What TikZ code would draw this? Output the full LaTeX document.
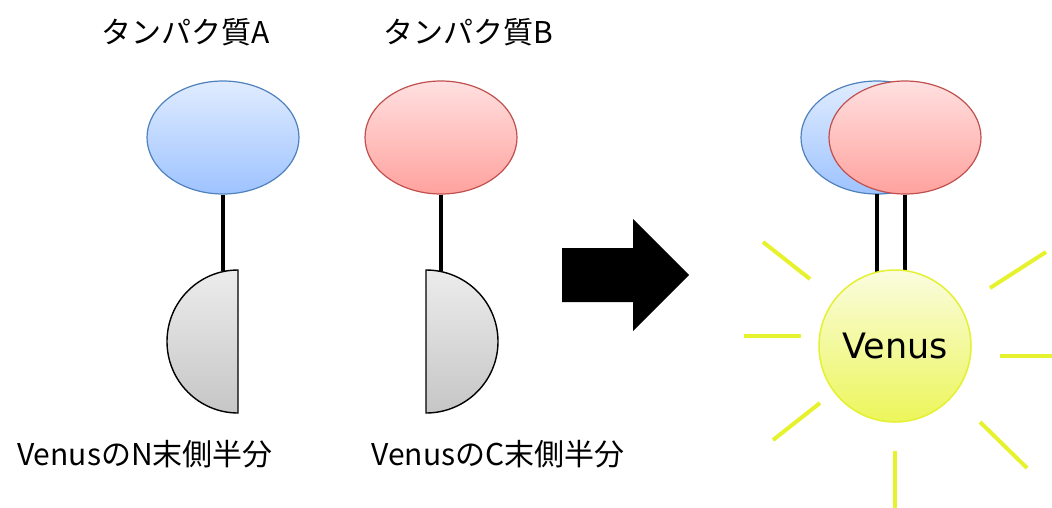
\documentclass[tikz,border=0pt]{standalone}
\usepackage{fontspec}
\usetikzlibrary{shapes.geometric}
\newfontfamily\cjkfont{Noto Sans CJK JP}
\newfontfamily\latfont{DejaVu Sans}
\newcommand{\jtxt}[2]{{\cjkfont\fontsize{#1}{#1}\selectfont #2}}
\newcommand{\ltxt}[2]{{\latfont\fontsize{#1}{#1}\selectfont #2}}
\definecolor{blueB}{RGB}{79,129,189}
\definecolor{blueT}{RGB}{224,236,255}
\definecolor{blueBo}{RGB}{158,195,255}
\definecolor{redB}{RGB}{192,80,77}
\definecolor{redT}{RGB}{255,224,224}
\definecolor{redBo}{RGB}{255,162,158}
\definecolor{grayT}{RGB}{236,236,236}
\definecolor{grayBo}{RGB}{198,198,198}
\definecolor{yelB}{RGB}{228,240,50}
\definecolor{yelT}{RGB}{250,252,222}
\definecolor{yelBo}{RGB}{236,246,90}
\definecolor{ray}{RGB}{230,242,45}
\tikzset{
  protA/.style={ellipse, draw=blueB, line width=1.2, top color=blueT, bottom color=blueBo,
    minimum width=152, minimum height=113, inner sep=0},
  protB/.style={ellipse, draw=redB, line width=1.2, top color=redT, bottom color=redBo,
    minimum width=152, minimum height=113, inner sep=0},
  halfd/.style={draw=black, line width=1.4, top color=grayT, bottom color=grayBo},
  linker/.style={line width=4, black},
  rayline/.style={line width=4, ray},
  venus/.style={circle, draw=yelB, line width=1.5, top color=yelT, bottom color=yelBo,
    minimum size=152, inner sep=0},
  arrowblk/.style={fill=black, draw=none},
  lab/.style={anchor=base, inner sep=0, font=\cjkfont\fontsize{30}{30}\selectfont}
}
\begin{document}
\begin{tikzpicture}[x=1pt,y=-1pt]
\useasboundingbox (0,0) rectangle (1052,507);
% labels
\node[lab] (labA) at (186,43) {タンパク質A};
\node[lab] (labB) at (468,43) {タンパク質B};
\node[lab] (labN) at (145,465) {VenusのN末側半分};
\node[lab] (labC) at (498,465) {VenusのC末側半分};
% left group
\coordinate (topN) at (223,271);
\coordinate (topC) at (441,271);
\node[protA] (pA) at (223,137.5) {};
\node[protB] (pB) at (441,137.5) {};
\draw[linker] (pA.south) -- (topN);
\draw[linker] (pB.south) -- (topC);
\draw[halfd] (238,270) arc[start angle=-90, end angle=-270, x radius=71, y radius=71.5] -- cycle;
\draw[halfd] (426,270) arc[start angle=-90, end angle=90, x radius=72, y radius=71.5] -- cycle;
% arrow
\fill[arrowblk] (562,248) -- (633,248) -- (633,219) -- (689,275) -- (633,331) -- (633,302) -- (562,302) -- cycle;
% right group
\coordinate (vA) at (877,272);
\coordinate (vB) at (905,272);
\node[protA] (rA) at (877,137.5) {};
\node[protB] (rB) at (905,137.5) {};
\draw[linker] (877,194) -- (vA);
\draw[linker] (rB.south) -- (vB);
\node[venus] (ven) at (895,346) {\ltxt{35}{Venus}};
% rays
\coordinate (r1a) at (763,242); \coordinate (r1b) at (810,279);
\coordinate (r2a) at (744,336); \coordinate (r2b) at (801,336);
\coordinate (r3a) at (773,440); \coordinate (r3b) at (820,403);
\coordinate (r4a) at (895,451); \coordinate (r4b) at (895,510);
\coordinate (r5a) at (980,422); \coordinate (r5b) at (1027,468);
\coordinate (r6a) at (1000,356); \coordinate (r6b) at (1055,356);
\coordinate (r7a) at (990,288); \coordinate (r7b) at (1046,252);
\draw[rayline] (r1a) -- (r1b);
\draw[rayline] (r2a) -- (r2b);
\draw[rayline] (r3a) -- (r3b);
\draw[rayline] (r4a) -- (r4b);
\draw[rayline] (r5a) -- (r5b);
\draw[rayline] (r6a) -- (r6b);
\draw[rayline] (r7a) -- (r7b);
\end{tikzpicture}
\end{document}
